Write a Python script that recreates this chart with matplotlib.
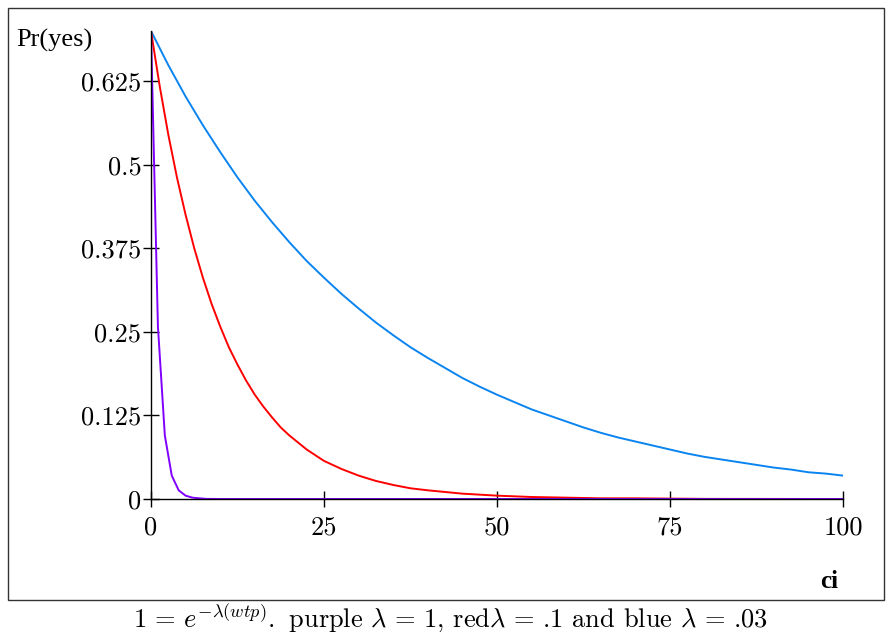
# Pr(yes) against ci for three decay rates

import numpy as np
import matplotlib.pyplot as plt
from matplotlib.patches import Rectangle

plt.rcParams['mathtext.fontset'] = 'cm'

# values
purple_x = [0, 1, 2, 3, 4, 5, 6, 7, 8, 10, 20, 40, 60, 80, 100]
purple_y = [0.700, 0.258, 0.095, 0.035, 0.013, 0.005, 0.002, 0.001, 0.0002, 0, 0, 0, 0, 0, 0]

red_x = [0, 1.25, 2.5, 3.75, 5, 6.25, 7.5, 8.75, 10, 11.25, 12.5, 13.75, 15, 16.25, 17.5,
         18.75, 20, 22.5, 25, 27.5, 30, 32.5, 35, 37.5, 40, 45, 50, 55, 60, 65, 70, 80, 90, 100]
red_y = [0.700, 0.618, 0.545, 0.481, 0.425, 0.375, 0.331, 0.292, 0.258, 0.227, 0.201, 0.177,
         0.156, 0.138, 0.122, 0.107, 0.095, 0.074, 0.057, 0.045, 0.035, 0.027, 0.021, 0.016,
         0.013, 0.008, 0.005, 0.003, 0.002, 0.001, 0.001, 0.0002, 0.0001, 0]

blue_x = [0, 2.5, 5, 7.5, 10, 12.5, 15, 17.5, 20, 22.5, 25, 27.5, 30, 32.5, 35, 37.5, 40,
          42.5, 45, 47.5, 50, 52.5, 55, 57.5, 60, 62.5, 65, 67.5, 70, 72.5, 75, 77.5, 80,
          82.5, 85, 87.5, 90, 92.5, 95, 97.5, 100]
blue_y = [0.700, 0.649, 0.602, 0.559, 0.519, 0.481, 0.446, 0.414, 0.384, 0.356, 0.331,
          0.307, 0.285, 0.264, 0.245, 0.227, 0.211, 0.196, 0.181, 0.168, 0.156, 0.145,
          0.134, 0.125, 0.116, 0.107, 0.099, 0.092, 0.086, 0.080, 0.074, 0.068, 0.063,
          0.059, 0.055, 0.051, 0.047, 0.044, 0.040, 0.038, 0.035]

x_ticks = [0, 25, 50, 75, 100]
y_ticks = [0, 0.125, 0.25, 0.375, 0.5, 0.625]
y_tick_labels = ['0', '0.125', '0.25', '0.375', '0.5', '0.625']

W, H = 889, 635
fig = plt.figure(figsize=(W / 100, H / 100), dpi=100)

# outer frame
fig.patches.append(Rectangle((8 / W, 1 - 600 / H), 876 / W, 592 / H,
                             transform=fig.transFigure, fill=False,
                             edgecolor='#333333', linewidth=1.0))

ax = fig.add_axes([151 / W, 1 - 499 / H, 692 / W, 468 / H])
ax.patch.set_alpha(0)

ax.plot(blue_x, blue_y, color='#0a84f0', linewidth=1.4)
ax.plot(red_x, red_y, color='#ff0000', linewidth=1.4)
ax.plot(purple_x, purple_y, color='#8000ff', linewidth=1.4)

ax.set_xlim(0, 100)
ax.set_ylim(0, 0.7)
for s in ['top', 'right']:
    ax.spines[s].set_visible(False)
for s in ['left', 'bottom']:
    ax.spines[s].set_linewidth(1.0)
    ax.spines[s].set_color('black')

ax.set_xticks(x_ticks)
ax.set_xticklabels([str(t) for t in x_ticks], family='cmr10')
ax.set_yticks(y_ticks)
ax.set_yticklabels(y_tick_labels, family='cmr10')
ax.tick_params(axis='both', direction='inout', length=12, width=1.0,
               labelsize=19)
ax.tick_params(axis='x', pad=6)
ax.tick_params(axis='y', pad=1)

fig.text(16 / W, 1 - 40 / H, 'Pr(yes)', fontsize=19, family='Liberation Serif',
         va='center', ha='left')
fig.text(829 / W, 1 - 582 / H, 'ci', fontsize=18, family='Liberation Serif',
         fontweight='bold', va='center', ha='center')
fig.text(450 / W, 1 - 618 / H,
         r'$1\,=\,e^{-\lambda(wtp)}.$ purple $\lambda\,=\,1$, red$\lambda\,=\,$.1 and blue $\lambda\,=\,$.03',
         fontsize=19, family='cmr10', math_fontfamily='cm', va='center', ha='center')

fig.savefig('out.png', dpi=100)
